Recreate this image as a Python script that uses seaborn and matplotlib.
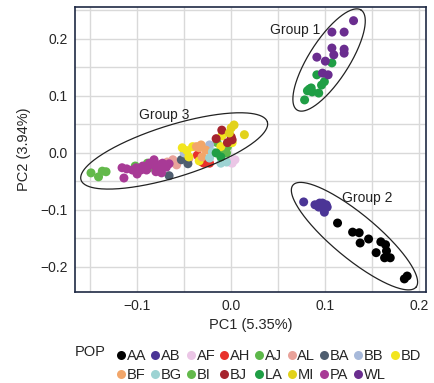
import numpy as np
import pandas as pd
import matplotlib
matplotlib.use("Agg")
import matplotlib.pyplot as plt
from matplotlib.ticker import MultipleLocator
import seaborn as sns

POPS = ["AA", "AB", "AF", "AH", "AJ", "AL", "BA", "BB", "BD",
        "BF", "BG", "BI", "BJ", "LA", "MI", "PA", "WL"]
COLORS = ["#000000", "#4b3596", "#ebc6e6", "#e8312b", "#5db84a", "#e9a29a",
          "#4f5e70", "#a7b9da", "#f2e51e", "#f2a66a", "#9dd3d3", "#63b94b",
          "#a6242e", "#1f9e45", "#e2d21b", "#a83a96", "#6a2d8f"]

# PC1 / PC2 per population
pc = {
    "AA": ([0.113, 0.129, 0.136, 0.137, 0.146, 0.159, 0.164, 0.154, 0.165, 0.163, 0.169, 0.184, 0.187],
           [-0.123, -0.139, -0.140, -0.158, -0.151, -0.156, -0.161, -0.175, -0.172, -0.184, -0.184, -0.221, -0.216]),
    "AB": ([0.077, 0.089, 0.094, 0.097, 0.101, 0.097, 0.099, 0.102, 0.093],
           [-0.086, -0.091, -0.088, -0.088, -0.091, -0.096, -0.104, -0.095, -0.095]),
    "AF": ([0.001, -0.002, 0.004], [-0.018, -0.016, -0.012]),
    "AH": ([-0.036, -0.031, -0.027, -0.034, -0.029, -0.023, -0.031],
           [-0.004, -0.009, -0.016, -0.009, -0.018, -0.018, -0.016]),
    "AJ": ([-0.102, -0.089, -0.087, -0.015, -0.010, -0.005, -0.004],
           [-0.023, -0.018, -0.026, 0.018, 0.005, 0.000, 0.011]),
    "AL": ([-0.068, -0.062, -0.058, -0.045], [-0.016, -0.012, -0.021, -0.010]),
    "BA": ([-0.066, -0.053, -0.046], [-0.040, -0.012, -0.019]),
    "BB": ([-0.050, -0.023, -0.021], [0.000, 0.014, 0.000]),
    "BD": ([-0.052, -0.047, -0.041, -0.045, -0.034, -0.010, -0.011, 0.001],
           [0.009, 0.004, 0.011, -0.007, -0.014, 0.030, 0.011, 0.018]),
    "BF": ([-0.037, -0.032, -0.027, -0.034, -0.031], [0.011, 0.014, 0.005, 0.009, -0.007]),
    "BG": ([-0.020, -0.023, -0.005, -0.011], [0.002, -0.009, -0.016, -0.018]),
    "BI": ([-0.149, -0.141, -0.137, -0.133], [-0.035, -0.042, -0.032, -0.033]),
    "BJ": ([-0.010, -0.016, 0.000, 0.001, -0.004], [0.040, 0.025, 0.028, 0.023, 0.018]),
    "LA": ([0.107, 0.091, 0.099, 0.096, 0.085, 0.081, 0.086, 0.093, 0.078, 0.083, -0.016, -0.011],
           [0.158, 0.137, 0.125, 0.119, 0.114, 0.109, 0.107, 0.105, 0.093, 0.112, 0.000, -0.007]),
    "MI": ([0.003, 0.000, 0.014, -0.002], [0.049, 0.044, 0.032, 0.035]),
    "PA": ([-0.116, -0.114, -0.111, -0.105, -0.101, -0.100, -0.096, -0.090, -0.087, -0.084,
            -0.080, -0.077, -0.073, -0.077, -0.069, -0.080, -0.074, -0.094, -0.066, -0.082],
           [-0.026, -0.044, -0.028, -0.030, -0.026, -0.037, -0.030, -0.030, -0.018, -0.021,
            -0.025, -0.021, -0.018, -0.030, -0.025, -0.033, -0.035, -0.023, -0.019, -0.012]),
    "WL": ([0.130, 0.107, 0.120, 0.107, 0.120, 0.120, 0.109, 0.091, 0.100, 0.097, 0.103],
           [0.232, 0.212, 0.212, 0.184, 0.182, 0.175, 0.172, 0.168, 0.161, 0.140, 0.137]),
}

rows = []
for p in POPS:
    for x, y in zip(*pc[p]):
        rows.append((p, x, y))
df = pd.DataFrame(rows, columns=["POP", "PC1", "PC2"])

# group ellipses: centre, semi-major vector, semi-minor vector, label spot (data units)
groups = {
    "Group 1": ((0.104, 0.163), (0.034, 0.0877), (0.018, -0.019), (0.068, 0.216)),
    "Group 2": ((0.131, -0.146), (0.0654, -0.0895), (0.015, 0.0297), (0.145, -0.079)),
    "Group 3": ((-0.0606, 0.0035), (0.099, 0.0509), (0.0082, -0.0435), (-0.071, 0.067)),
}

sns.set_style("whitegrid")
plt.rcParams["font.family"] = ["Liberation Sans", "DejaVu Sans"]
FS = 10

fig = plt.figure(figsize=(4.35, 3.83), dpi=100)
ax = fig.add_axes([75 / 435, 1 - 292 / 383, 351 / 435, 285 / 383])

sns.scatterplot(data=df, x="PC1", y="PC2", hue="POP", hue_order=POPS,
                palette=dict(zip(POPS, COLORS)), s=42, linewidth=0, ax=ax)

t = np.linspace(0, 2 * np.pi, 300)
for name, (c, u, v, lab) in groups.items():
    ex = c[0] + u[0] * np.cos(t) + v[0] * np.sin(t)
    ey = c[1] + u[1] * np.cos(t) + v[1] * np.sin(t)
    ax.plot(ex, ey, color="#222222", lw=0.9)
    ax.text(lab[0], lab[1], name, ha="center", va="center", fontsize=FS, color="#222222")

ax.set_xlim(-0.166, 0.207)
ax.set_ylim(-0.244, 0.256)
ax.xaxis.set_major_locator(MultipleLocator(0.1))
ax.yaxis.set_major_locator(MultipleLocator(0.1))
ax.xaxis.set_minor_locator(MultipleLocator(0.05))
ax.yaxis.set_minor_locator(MultipleLocator(0.05))
ax.grid(which="both", color="#d9d9d9", lw=1.0)
ax.tick_params(which="major", length=3, width=1, color="#1f2a44", labelsize=FS, pad=2)
ax.tick_params(which="minor", length=0)
fmt = matplotlib.ticker.FuncFormatter(lambda v, _: f"{v:.1f}".replace("-", "\u2212"))
ax.xaxis.set_major_formatter(fmt)
ax.yaxis.set_major_formatter(fmt)
for sp in ax.spines.values():
    sp.set_color("#1f2a44")
    sp.set_linewidth(1.2)
ax.set_xlabel("PC1 (5.35%)", fontsize=FS + 0.5, labelpad=4)
ax.set_ylabel("PC2 (3.94%)", fontsize=FS + 0.5, labelpad=7)

handles, labels = ax.get_legend_handles_labels()
ax.get_legend().remove()
lookup = dict(zip(labels, handles))
row1, row2 = POPS[:9], POPS[9:]
order = []
for i in range(9):
    order.append(row1[i])
    if i < len(row2):
        order.append(row2[i])
fig.legend([lookup[k] for k in order], order, ncol=9, loc="upper left",
           bbox_to_anchor=(105 / 435, 1 - 342 / 383), frameon=False,
           fontsize=FS + 0.5, handletextpad=-0.2, columnspacing=0.0,
           labelspacing=0.35, handlelength=1.2, borderpad=0, markerscale=1.0)
fig.text(75 / 435, 1 - 352 / 383, "POP", fontsize=FS + 0.5, va="center", ha="left")

fig.savefig("out.png", dpi=100)
